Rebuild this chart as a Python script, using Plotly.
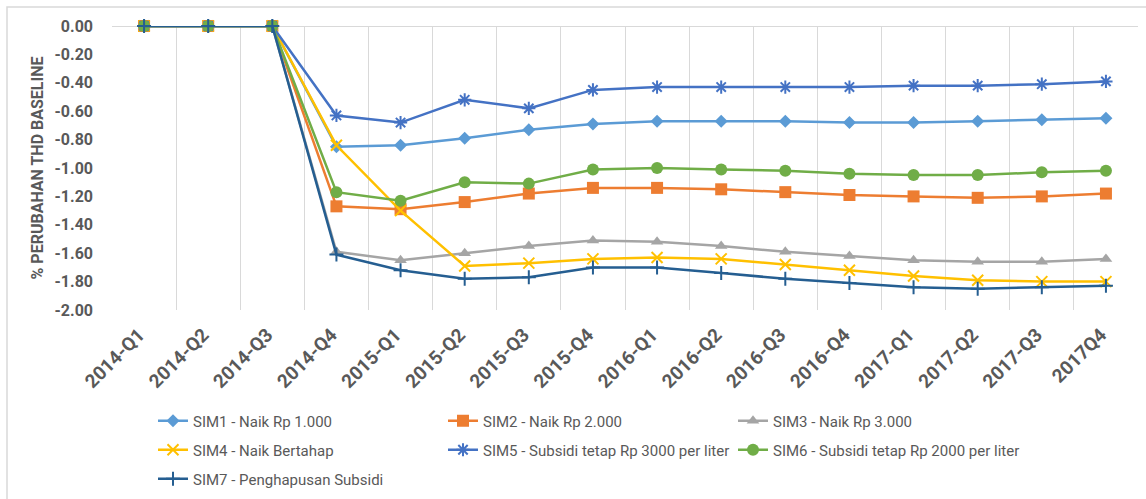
import plotly.graph_objects as go

categories = ["2014-Q1", "2014-Q2", "2014-Q3", "2014-Q4", "2015-Q1", "2015-Q2", "2015-Q3", "2015-Q4",
              "2016-Q1", "2016-Q2", "2016-Q3", "2016-Q4", "2017-Q1", "2017-Q2", "2017-Q3", "2017Q4"]

sim1 = [0, 0, 0, -0.85, -0.84, -0.79, -0.73, -0.69, -0.67, -0.67, -0.67, -0.68, -0.68, -0.67, -0.66, -0.65]
sim2 = [0, 0, 0, -1.27, -1.29, -1.24, -1.18, -1.14, -1.14, -1.15, -1.17, -1.19, -1.20, -1.21, -1.20, -1.18]
sim3 = [0, 0, 0, -1.59, -1.65, -1.60, -1.55, -1.51, -1.52, -1.55, -1.59, -1.62, -1.65, -1.66, -1.66, -1.64]
sim4 = [0, 0, 0, -0.84, -1.30, -1.69, -1.67, -1.64, -1.63, -1.64, -1.68, -1.72, -1.76, -1.79, -1.80, -1.80]
sim5 = [0, 0, 0, -0.63, -0.68, -0.52, -0.58, -0.45, -0.43, -0.43, -0.43, -0.43, -0.42, -0.42, -0.41, -0.39]
sim6 = [0, 0, 0, -1.17, -1.23, -1.10, -1.11, -1.01, -1.00, -1.01, -1.02, -1.04, -1.05, -1.05, -1.03, -1.02]
sim7 = [0, 0, 0, -1.61, -1.72, -1.78, -1.77, -1.70, -1.70, -1.74, -1.78, -1.81, -1.84, -1.85, -1.84, -1.83]

names = ["SIM1 - Naik Rp 1.000", "SIM2 - Naik Rp 2.000", "SIM3 - Naik Rp 3.000",
         "SIM4 - Naik Bertahap", "SIM5 - Subsidi tetap Rp 3000 per liter",
         "SIM6 - Subsidi tetap Rp 2000 per liter", "SIM7 - Penghapusan Subsidi"]

y_tickvals = [0, -0.2, -0.4, -0.6, -0.8, -1.0, -1.2, -1.4, -1.6, -1.8, -2.0]
y_ticktext = ["0.00", "-0.20", "-0.40", "-0.60", "-0.80", "-1.00", "-1.20", "-1.40", "-1.60", "-1.80", "-2.00"]

FONT = "Roboto, Arial, sans-serif"
GRAY = "#595959"

styles = [
    dict(color="#5B9BD5", symbol="diamond", size=10, legend="legend"),
    dict(color="#ED7D31", symbol="square", size=12, legend="legend"),
    dict(color="#A5A5A5", symbol="triangle-up", size=11, legend="legend"),
    dict(color="#FFC000", symbol="x-thin-open", size=11, legend="legend2"),
    dict(color="#4472C4", symbol="asterisk-open", size=11, legend="legend2"),
    dict(color="#70AD47", symbol="circle", size=12, legend="legend2"),
    dict(color="#255E91", symbol="cross-thin-open", size=10, legend="legend3"),
]

series = [sim1, sim2, sim3, sim4, sim5, sim6, sim7]

fig = go.Figure()
for name, vals, st in zip(names, series, styles):
    open_sym = st["symbol"].endswith("open")
    fig.add_trace(go.Scatter(
        x=categories, y=vals, name=name, mode="lines+markers",
        line=dict(color=st["color"], width=2.5),
        marker=dict(symbol=st["symbol"], size=st["size"], color=st["color"],
                    line=dict(color=st["color"], width=2 if open_sym else 0)),
        cliponaxis=False, legend=st["legend"],
    ))

L, R, T, B = 112, 8, 26, 189
PW = 1146 - L - R
PH = 499 - T - B

def px_x(x):
    return (x - L) / PW

def px_y(y):
    return (499 - B - y) / PH

legend_common = dict(orientation="h", xref="paper", yref="paper", xanchor="left", yanchor="middle",
                     entrywidth=245, entrywidthmode="pixels",
                     font=dict(family=FONT, size=15, color=GRAY), bgcolor="rgba(0,0,0,0)")

fig.update_layout(
    width=1146, height=499,
    margin=dict(l=L, r=R, t=T, b=B, autoexpand=False),
    plot_bgcolor="white", paper_bgcolor="white",
    font=dict(family=FONT, color=GRAY),
    xaxis=dict(type="category", tickson="boundaries", showgrid=True, gridcolor="#D9D9D9", gridwidth=1,
               tickangle=-45, tickfont=dict(family=FONT, size=19, color=GRAY, weight="bold"),
               ticklabelstandoff=9, ticklabelshift=-5,
               showline=False, ticks="", range=[-0.5, 15.5], zeroline=False, automargin=False),
    yaxis=dict(range=[-2, 0], tickvals=y_tickvals, ticktext=y_ticktext, showgrid=False,
               zeroline=True, zerolinecolor="#D9D9D9", zerolinewidth=1, automargin=False,
               ticklabelstandoff=18,
               tickfont=dict(family=FONT, size=16, color=GRAY, weight="bold"),
               title=dict(text="% PERUBAHAN THD BASELINE", font=dict(family=FONT, size=16, color=GRAY, weight="bold"),
                          standoff=6)),
    legend=dict(x=px_x(153), y=px_y(421), **legend_common),
    legend2=dict(x=px_x(153), y=px_y(450), **legend_common),
    legend3=dict(x=px_x(153), y=px_y(479), **legend_common),
    shapes=[dict(type="rect", xref="paper", yref="paper",
                 x0=px_x(7), x1=px_x(1160),
                 y0=px_y(520), y1=px_y(7),
                 line=dict(color="#D9D9D9", width=1.5), fillcolor="rgba(0,0,0,0)", layer="below")],
)

fig.write_html("out.html", post_script="document.body.style.margin='0';",
               config={"displayModeBar": False})
